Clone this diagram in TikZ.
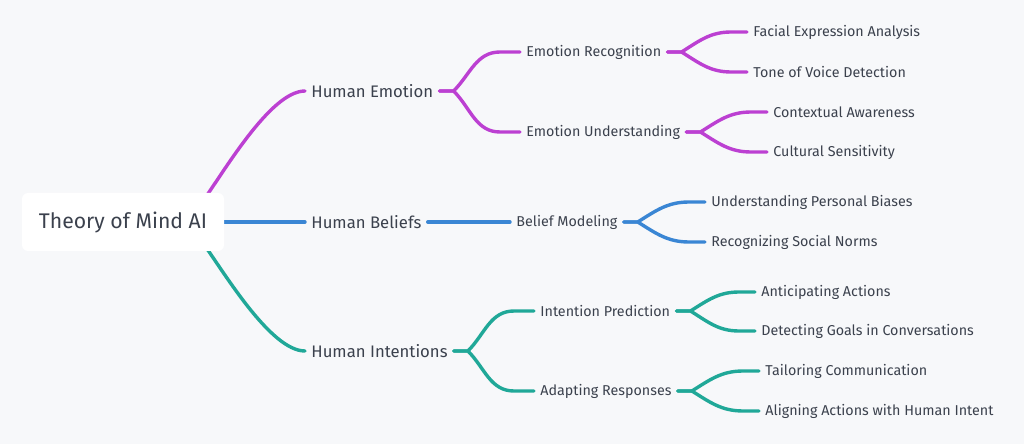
\documentclass[tikz,border=0pt]{standalone}
\usepackage{fontspec}
\setmainfont{Fira Sans}
\usetikzlibrary{calc,backgrounds}
\definecolor{emopurple}{HTML}{BC40D2}
\definecolor{beliefblue}{HTML}{3A86D4}
\definecolor{intentgreen}{HTML}{20A898}
\definecolor{ink}{HTML}{3B414D}
\definecolor{paper}{HTML}{F7F8FA}

\begin{document}
\begin{tikzpicture}[x=0.5pt,y=-0.5pt,
	topic/.style={anchor=west,inner xsep=3pt,inner ysep=2pt,text=ink,font=\fontsize{8.35}{10}\selectfont},
	leaf/.style={topic,font=\fontsize{7.15}{9}\selectfont},
	link/.style={line width=1.7pt,line cap=round}]
		\node[fill=white,rounded corners=3pt,minimum width=101pt,minimum height=29pt,text=ink,font=\fontsize{10.6}{13}\selectfont] (root) at (123,222) {Theory of Mind AI};
%
		\node[topic] (hemo) at (305,91) {Human Emotion};
		\node[topic] (hbel) at (305,222) {Human Beliefs};
		\node[topic] (hint) at (305,351) {Human Intentions};
%
		\node[leaf] (erec) at (520,52) {Emotion Recognition};
		\node[leaf] (eund) at (520,132) {Emotion Understanding};
		\node[leaf] (bmod) at (510,222) {Belief Modeling};
		\node[leaf] (ipred) at (534,311) {Intention Prediction};
		\node[leaf] (adapt) at (534,391) {Adapting Responses};
%
		\node[leaf] (facial) at (747,32) {Facial Expression Analysis};
		\node[leaf] (tone) at (747,72) {Tone of Voice Detection};
		\node[leaf] (context) at (767,112) {Contextual Awareness};
		\node[leaf] (culture) at (767,152) {Cultural Sensitivity};
		\node[leaf] (biases) at (705,202) {Understanding Personal Biases};
		\node[leaf] (norms) at (705,242) {Recognizing Social Norms};
		\node[leaf] (anticip) at (755,292) {Anticipating Actions};
		\node[leaf] (goals) at (755,331) {Detecting Goals in Conversations};
		\node[leaf] (tailor) at (759,371) {Tailoring Communication};
		\node[leaf] (align) at (759,411) {Aligning Actions with Human Intent};
%
	\begin{pgfonlayer}{background}
		\fill[paper] (0,0) rectangle (1024,444);
		\draw[link,emopurple] ($(root.north east)+(-24,12)$) .. controls +(22,-30) and +(-35,0) .. (hemo.west);
		\draw[link,beliefblue] (root.east) -- (hbel.west);
		\draw[link,intentgreen] ($(root.south east)+(-24,-12)$) .. controls +(22,30) and +(-35,0) .. (hint.west);
%
		\draw[link,emopurple] (hemo.east) -- ++(14,0) to[out=45,in=180] ($(erec.west)+(-20,0)$) -- (erec.west);
		\draw[link,emopurple] (hemo.east) -- ++(14,0) to[out=-45,in=180] ($(eund.west)+(-20,0)$) -- (eund.west);
		\draw[link,beliefblue] (hbel.east) -- (bmod.west);
		\draw[link,intentgreen] (hint.east) -- ++(14,0) to[out=45,in=180] ($(ipred.west)+(-20,0)$) -- (ipred.west);
		\draw[link,intentgreen] (hint.east) -- ++(14,0) to[out=-45,in=180] ($(adapt.west)+(-20,0)$) -- (adapt.west);
%
		\draw[link,emopurple] (erec.east) -- ++(14,0) to[out=32,in=180] ($(facial.west)+(-16,0)$) -- (facial.west);
		\draw[link,emopurple] (erec.east) -- ++(14,0) to[out=-32,in=180] ($(tone.west)+(-16,0)$) -- (tone.west);
		\draw[link,emopurple] (eund.east) -- ++(14,0) to[out=32,in=180] ($(context.west)+(-16,0)$) -- (context.west);
		\draw[link,emopurple] (eund.east) -- ++(14,0) to[out=-32,in=180] ($(culture.west)+(-16,0)$) -- (culture.west);
		\draw[link,beliefblue] (bmod.east) -- ++(14,0) to[out=32,in=180] ($(biases.west)+(-16,0)$) -- (biases.west);
		\draw[link,beliefblue] (bmod.east) -- ++(14,0) to[out=-32,in=180] ($(norms.west)+(-16,0)$) -- (norms.west);
		\draw[link,intentgreen] (ipred.east) -- ++(14,0) to[out=32,in=180] ($(anticip.west)+(-16,0)$) -- (anticip.west);
		\draw[link,intentgreen] (ipred.east) -- ++(14,0) to[out=-32,in=180] ($(goals.west)+(-16,0)$) -- (goals.west);
		\draw[link,intentgreen] (adapt.east) -- ++(14,0) to[out=32,in=180] ($(tailor.west)+(-16,0)$) -- (tailor.west);
		\draw[link,intentgreen] (adapt.east) -- ++(14,0) to[out=-32,in=180] ($(align.west)+(-16,0)$) -- (align.west);
	\end{pgfonlayer}
\end{tikzpicture}
\end{document}
